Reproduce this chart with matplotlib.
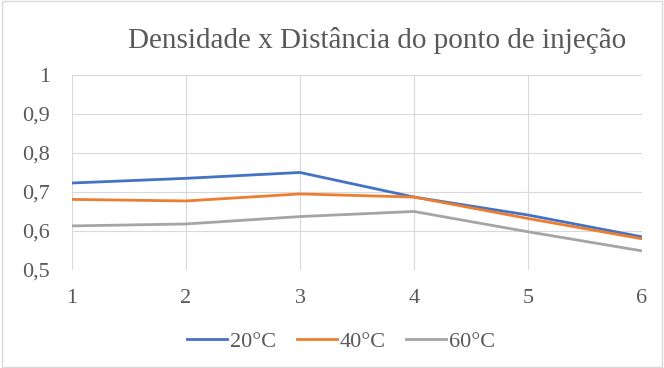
import matplotlib
matplotlib.use("Agg")
import matplotlib.pyplot as plt
from matplotlib.patches import Rectangle

x = [1, 2, 3, 4, 5, 6]
s20 = [0.723, 0.735, 0.750, 0.687, 0.641, 0.585]
s40 = [0.681, 0.677, 0.695, 0.687, 0.632, 0.580]
s60 = [0.613, 0.618, 0.637, 0.650, 0.598, 0.549]
labels = ["20°C", "40°C", "60°C"]
colors = ["#4472C4", "#ED7D31", "#A5A5A5"]
yticks = [0.5, 0.6, 0.7, 0.8, 0.9, 1.0]
ytick_labels = ["0,5", "0,6", "0,7", "0,8", "0,9", "1"]

plt.rcParams['font.family'] = ['Liberation Serif', 'DejaVu Serif']

fig = plt.figure(figsize=(6.64, 3.68), dpi=100)
fig.patches.append(Rectangle((0.003, 0.003), 0.994, 0.994, transform=fig.transFigure,
                             fill=False, edgecolor="#d9d9d9", linewidth=1))
ax = fig.add_axes([0.1084, 0.2663, 0.8584, 0.530])

for ys, lab, c in zip([s20, s40, s60], labels, colors):
    ax.plot(x, ys, color=c, linewidth=2, label=lab)

ax.set_xlim(1, 6)
ax.set_ylim(0.5, 1.0)
ax.set_xticks(x)
ax.set_xticklabels([str(v) for v in x])
ax.set_yticks(yticks)
ax.set_yticklabels(ytick_labels)
ax.grid(True, color="#d9d9d9", linewidth=0.8)
ax.set_axisbelow(True)
for sp in ax.spines.values():
    sp.set_visible(False)
ax.tick_params(length=0, labelsize=16, colors="#595959")
ax.tick_params(axis='y', pad=16)
ax.tick_params(axis='x', pad=14)

fig.text(0.568, 0.891, "Densidade x Distância do ponto de injeção", ha="center", va="center",
         fontsize=21, color="#595959")

leg = fig.legend(loc="center", bbox_to_anchor=(0.514, 0.071), ncol=3, frameon=False,
                 fontsize=16, handlelength=1.8, columnspacing=0.9, handletextpad=0.15)
for t in leg.get_texts():
    t.set_color("#595959")

fig.savefig("out.png", dpi=100)
